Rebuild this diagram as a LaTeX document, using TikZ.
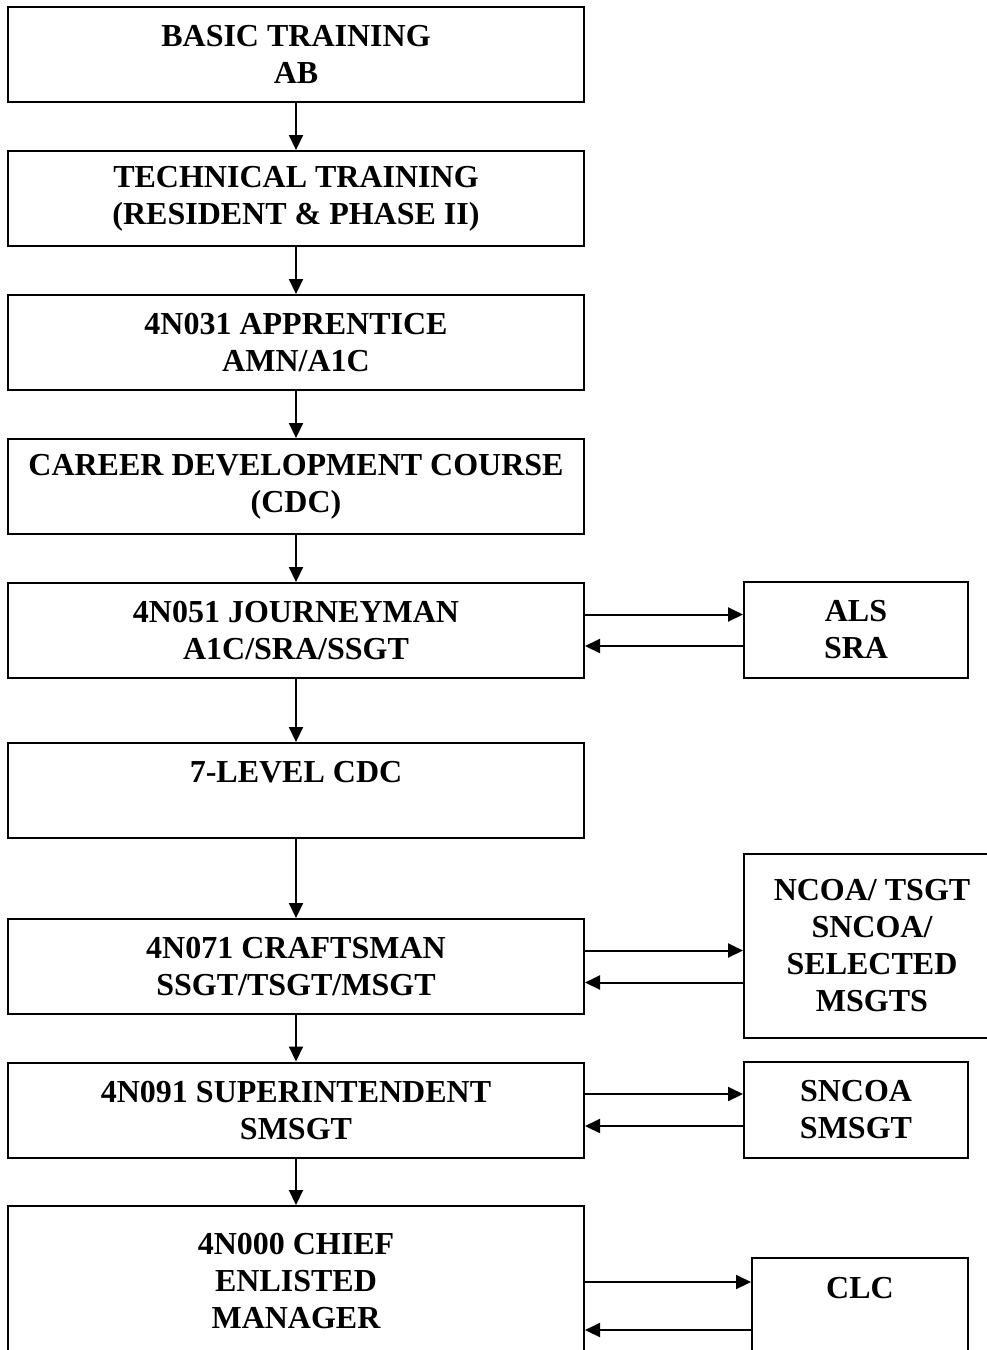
\documentclass[tikz,border=0pt]{standalone}
\usepackage{fontspec}
\setmainfont{Liberation Serif}
\usetikzlibrary{arrows.meta}
\tikzset{
  stage/.style={draw, line width=2pt, minimum width=576pt, minimum height=95pt,
    align=center, inner sep=0pt, font=\bfseries\fontsize{32}{37}\selectfont},
  course/.style={stage, minimum width=224pt, minimum height=96pt},
  flow/.style={line width=2pt, -{Triangle[length=15pt,width=14pt]}}
}
\begin{document}
\begin{tikzpicture}[x=1pt,y=-1pt]
\useasboundingbox (0,0) rectangle (987,1350);
\node[stage] (basic) at (296,54.5) {BASIC TRAINING\\AB};
\node[stage] (tech) at (296,198.5) {TECHNICAL TRAINING\\(RESIDENT \& PHASE II)};
\node[stage] (appr) at (296,342.5) {4N031 APPRENTICE\\AMN/A1C};
\node[stage] (cdc) at (296,486.5) {CAREER DEVELOPMENT COURSE\\(CDC)};
\node[stage] (journ) at (296,630.5) {4N051 JOURNEYMAN\\A1C/SRA/SSGT};
\node[stage] (level) at (296,790.5) {7-LEVEL CDC\\~};
\node[stage] (craft) at (296,966.5) {4N071 CRAFTSMAN\\SSGT/TSGT/MSGT};
\node[stage] (super) at (296,1110) {4N091 SUPERINTENDENT\\SMSGT};
\node[stage, minimum height=150pt] (chief) at (296,1281) {4N000 CHIEF\\ENLISTED\\MANAGER};
\node[course] (als) at (856,630) {ALS\\SRA};
\node[course, minimum width=256pt, minimum height=184pt] (ncoa) at (872,946) {NCOA/ TSGT\\SNCOA/\\SELECTED\\MSGTS};
\node[course] (sncoa) at (856,1110) {SNCOA\\SMSGT};
\node[course, minimum width=216pt, minimum height=97pt] (clc) at (860,1306.5) {CLC\\~};
\draw[flow] (basic) -- (tech);
\draw[flow] (tech) -- (appr);
\draw[flow] (appr) -- (cdc);
\draw[flow] (cdc) -- (journ);
\draw[flow] (journ) -- (level);
\draw[flow] (level) -- (craft);
\draw[flow] (craft) -- (super);
\draw[flow] (super) -- (chief);
\draw[flow] ([yshift=16pt]journ.east) -- ([yshift=16pt]journ.east -| als.west);
\draw[flow] ([yshift=-16pt]als.west) -- ([yshift=-16pt]als.west -| journ.east);
\draw[flow] ([yshift=16pt]craft.east) -- ([yshift=16pt]craft.east -| ncoa.west);
\draw[flow] ([yshift=-16pt]craft.east -| ncoa.west) -- ([yshift=-16pt]craft.east);
\draw[flow] ([yshift=16pt]super.east) -- ([yshift=16pt]super.east -| sncoa.west);
\draw[flow] ([yshift=-16pt]sncoa.west) -- ([yshift=-16pt]sncoa.west -| super.east);
\draw[flow] ([yshift=-1pt]chief.east) -- ([yshift=-1pt]chief.east -| clc.west);
\draw[flow] ([yshift=-49pt]chief.east -| clc.west) -- ([yshift=-49pt]chief.east);
\end{tikzpicture}
\end{document}
